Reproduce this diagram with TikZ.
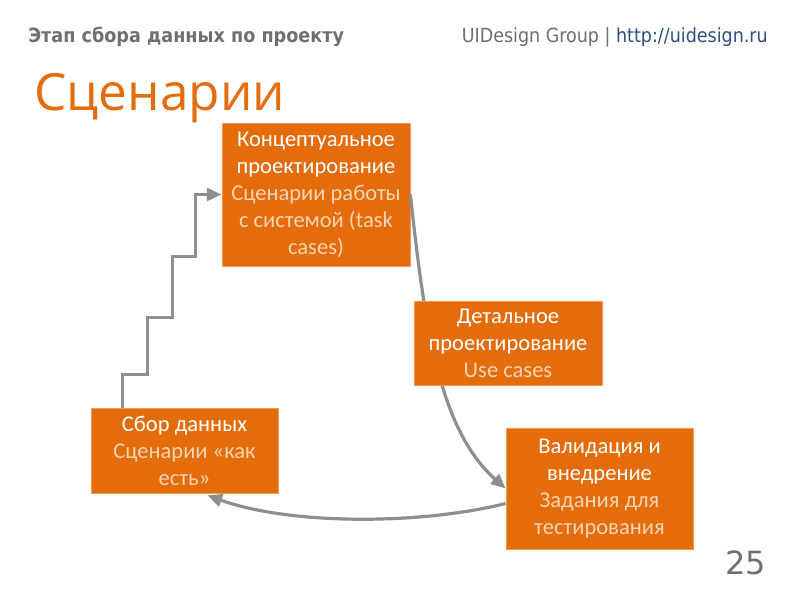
\documentclass[tikz,border=0pt]{standalone}
\usepackage{fontspec}
\setmainfont{Carlito}
\newfontfamily\headfont{DejaVu Sans Condensed}
\newfontfamily\titlefont{Open Sans}
\newfontfamily\numfont{DejaVu Sans}
\usetikzlibrary{positioning}
\usetikzlibrary{calc}
\usetikzlibrary{arrows.meta}
\definecolor{stageorange}{HTML}{E46C0A}
\definecolor{stageedge}{HTML}{EE9A55}
\definecolor{subpeach}{HTML}{FBD4B4}
\definecolor{flowgray}{HTML}{8E8E8E}
\definecolor{headgray}{HTML}{6F6F6F}
\definecolor{urlblue}{HTML}{2F4F7F}
\tikzset{
    stage/.style={fill=stageorange,draw=stageedge,line width=0.6pt,text=white,
        align=center,inner sep=0pt,
        font=\fontsize{16.9pt}{20.25pt}\selectfont},
    flow/.style={draw=flowgray,line width=2.4pt,-{Triangle[length=11pt,width=9.5pt]}},
}
\newcommand{\sub}[1]{\textcolor{subpeach}{#1}}

\begin{document}
\begin{tikzpicture}[x=0.75pt,y=-0.75pt]
            \useasboundingbox (0,0) rectangle (800,600);

            \node (topic) [anchor=base west,inner sep=0pt,text=headgray,font=\headfont\bfseries\fontsize{14.7pt}{16pt}\selectfont]
                at (28,42) {Этап сбора данных по проекту};
            \node (group) [anchor=base east,inner sep=0pt,text=headgray,font=\headfont\fontsize{14.6pt}{16pt}\selectfont]
                at (768,42) {UIDesign Group | \textcolor{urlblue}{http://uidesign.ru}};
            \node (title) [anchor=base west,text=stageorange,inner sep=0pt,font=\titlefont\fontsize{38.5pt}{44pt}\selectfont]
                at (34,110) {Сценарии};

            % curve runs behind the detail box
            \coordinate (bend1) at (425,330);
            \coordinate (bend2) at (440,430);
            \coordinate (sag1)  at (420,525);
            \coordinate (sag2)  at (290,525);

            \node (concept) [stage,minimum width=141pt,minimum height=107.25pt] at (316,194.5)
                {Концептуальное\\проектирование\\\sub{Сценарии работы}\\\sub{с системой (task}\\\sub{cases)}};
            \node (valid)   [stage,minimum width=140.25pt,minimum height=90.75pt] at (599.5,488.5)
                {Валидация и\\внедрение\\\sub{Задания для}\\\sub{тестирования}};
            \node (collect) [stage,minimum width=140.25pt,minimum height=63.75pt]  at (184.5,450.5)
                {Сбор данных\\\sub{Сценарии «как}\\\sub{есть»}};

            \draw[flow] (concept.east) .. controls (bend1) and (bend2) .. (valid.west);

            \node (detail)  [stage,minimum width=141pt,minimum height=63pt]  at (508,343)
                {Детальное\\проектирование\\\sub{Use cases}};

            \draw[flow] ($(collect.north west)+(32,0)$) |- ++(25,-33) |- ++(25,-57) |- ++(23,-61) |- (concept.west);
            \draw[flow] ($(valid.west)+(0,15)$) .. controls (sag1) and (sag2) .. ($(collect.south)+(23,2)$);

            \node (page) [anchor=base east,inner sep=0pt,text=headgray,font=\numfont\fontsize{24pt}{28pt}\selectfont]
                at (766,574) {25};
        \end{tikzpicture}
\end{document}
